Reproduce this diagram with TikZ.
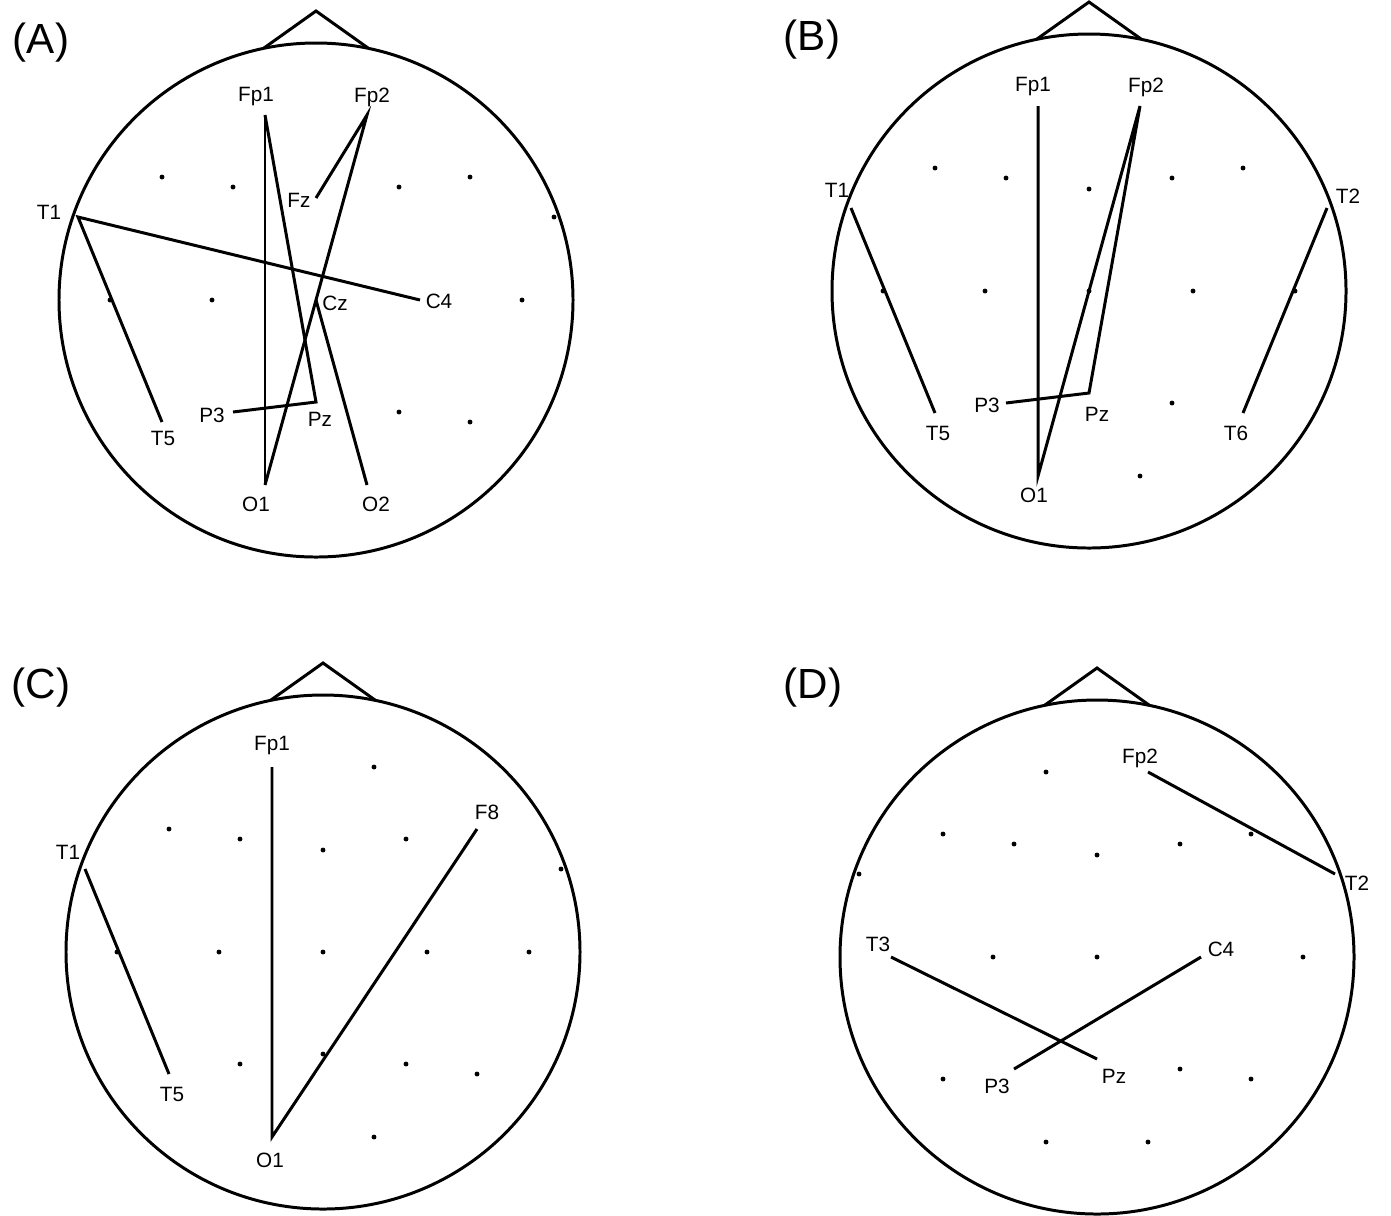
\documentclass[tikz,border=0pt]{standalone}
\usepackage{fontspec}
\setmainfont{Liberation Sans}
\usetikzlibrary{positioning}

\begin{document}
\begin{tikzpicture}[
  x=0.02cm, y=-0.02cm,
  head/.style={draw=black, line width=1.7pt},
  link/.style={black, line width=1.7pt},
  elec/.style={circle, fill=black, inner sep=0pt, minimum size=2.8pt},
  lbl/.style={font=\fontsize{11.8}{13}\selectfont, inner sep=0pt},
  tag/.style={font=\fontsize{24}{28}\selectfont, inner sep=0pt}
]
  \useasboundingbox (0,0) rectangle (1391,1215);
  % four heads, same 10-20 layout
  \foreach \hd/\cx/\cy/\tx/\ty in {A/316/300/41/43, B/1089/291/812/40, C/323/952/41/688, D/1097/957/813/688}{
    \begin{scope}[shift={(\cx,\cy)}]
      \draw[head] (0,0) circle (257);
      \draw[head] (-52,-252) -- (0,-289) -- (52,-252);
      \foreach \e/\ex/\ey in {Fp1/-51/-185, Fp2/51/-185, F7/-154/-123, F3/-83/-113, Fz/0/-102, F4/83/-113, F8/154/-123, T1/-238/-83, T2/238/-83, T3/-206/0, C3/-104/0, Cz/0/0, C4/104/0, T4/206/0, T5/-154/122, P3/-83/112, Pz/0/102, P4/83/112, T6/154/122, O1/-51/185, O2/51/185}{
        \coordinate (\hd-\e) at (\ex,\ey);
      }
    \end{scope}
    \node[tag] (\hd-tag) at (\tx,\ty) {(\hd)};
  }

  % (A)
  \foreach \e in {F7,F3,F4,F8,T2,T3,C3,T4,P4,T6}
    \node[elec] (A-\e-dot) at (A-\e) {};
  \foreach \e/\dx/\dy in {Fp1/-9/-18, Fp2/5/-18, Fz/-17/2, Cz/19/3, C4/19/1, T1/-29/-5, T5/1/16, P3/-21/3, Pz/4/17, O1/-9/19, O2/9/19}
    \node[lbl] (A-\e-lbl) at ([shift={(\dx,\dy)}]A-\e) {\e};
  \draw[link] (A-Fp1) -- (A-O1);
  \draw[link] (A-Fp1) -- (A-Pz) -- (A-P3);
  \draw[link] (A-Fz) -- (A-Fp2) -- (A-Cz) -- (A-O1);
  \draw[link] (A-Cz) -- (A-O2);
  \draw[link] (A-T5) -- (A-T1) -- (A-C4);

  % (B)
  \foreach \e in {F7,F3,Fz,F4,F8,T3,C3,Cz,C4,T4,P4,O2}
    \node[elec] (B-\e-dot) at (B-\e) {};
  \foreach \e/\dx/\dy in {Fp1/-5/-19, Fp2/6/-19, T1/-14/-18, T2/21/-12, P3/-19/2, Pz/8/21, T5/3/20, T6/-7/20, O1/-4/19}
    \node[lbl] (B-\e-lbl) at ([shift={(\dx,\dy)}]B-\e) {\e};
  \draw[link] (B-Fp1) -- (B-O1) -- (B-Fp2) -- (B-Pz) -- (B-P3);
  \draw[link] (B-T1) -- (B-T5);
  \draw[link] (B-T2) -- (B-T6);

  % (C)
  \foreach \e in {Fp2,F7,F3,Fz,F4,T2,T3,C3,Cz,C4,T4,P3,Pz,P4,T6,O2}
    \node[elec] (C-\e-dot) at (C-\e) {};
  \foreach \e/\dx/\dy in {Fp1/0/-22, F8/10/-17, T1/-17/-17, T5/3/20, O1/-2/23}
    \node[lbl] (C-\e-lbl) at ([shift={(\dx,\dy)}]C-\e) {\e};
  \draw[link] (C-Fp1) -- (C-O1) -- (C-F8);
  \draw[link] (C-T1) -- (C-T5);

  % (D)
  \foreach \e in {Fp1,F7,F3,Fz,F4,F8,T1,C3,Cz,T4,T5,P4,T6,O1,O2}
    \node[elec] (D-\e-dot) at (D-\e) {};
  \foreach \e/\dx/\dy in {Fp2/-8/-14, T2/22/9, T3/-13/-13, C4/20/-8, P3/-17/17, Pz/17/17}
    \node[lbl] (D-\e-lbl) at ([shift={(\dx,\dy)}]D-\e) {\e};
  \draw[link] (D-Fp2) -- (D-T2);
  \draw[link] (D-T3) -- (D-Pz);
  \draw[link] (D-C4) -- (D-P3);
\end{tikzpicture}
\end{document}
